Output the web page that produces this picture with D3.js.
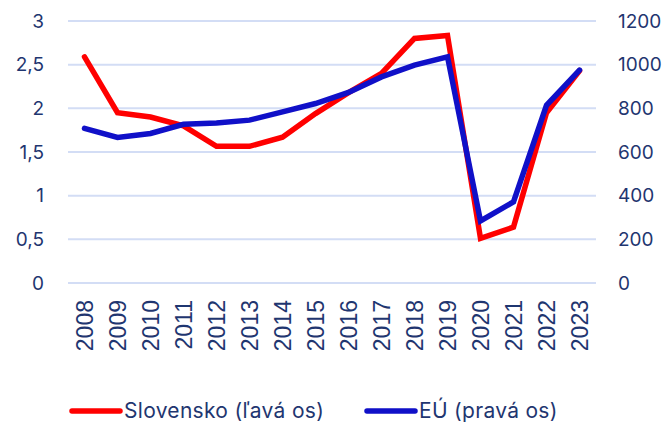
<!DOCTYPE html>
<html>
<head>
<meta charset="utf-8">
<script src="https://cdn.jsdelivr.net/npm/d3@7"></script>
<style>
  body { margin: 0; background: #fff; }
  svg text { fill: #1f3670; }
</style>
</head>
<body>
<div id="chart"></div>
<script>
var years = ["2008", "2009", "2010", "2011", "2012", "2013", "2014", "2015",
  "2016", "2017", "2018", "2019", "2020", "2021", "2022", "2023"];
// Slovensko, left axis
var slovensko = [2.59, 1.95, 1.90, 1.80, 1.565, 1.565, 1.67, 1.94,
  2.18, 2.40, 2.80, 2.835, 0.51, 0.64, 1.95, 2.43];
// EU, right axis
var eu = [708, 667, 685, 727, 733, 746, 784, 822,
  873, 944, 998, 1036, 284, 372, 814, 975];
var leftTicks = [0, 0.5, 1, 1.5, 2, 2.5, 3];
var rightTicks = [0, 200, 400, 600, 800, 1000, 1200];
var legendLabels = ["Slovensko (ľavá os)", "EÚ (pravá os)"];

var width = 671, height = 423;
var margin = { top: 21, right: 75, bottom: 140, left: 68 };
var w = width - margin.left - margin.right,
  h = height - margin.top - margin.bottom;

var x = d3.scaleBand().domain(years).range([0, w]);
var yL = d3.scaleLinear().domain([0, 3]).range([h, 0]);
var yR = d3.scaleLinear().domain([0, 1200]).range([h, 0]);

var svg = d3.select("#chart").append("svg")
  .attr("width", width)
  .attr("height", height);

var g = svg.append("g")
  .attr("transform", "translate(" + margin.left + "," + margin.top + ")");

// grid
g.append("g").selectAll("line")
  .data(leftTicks)
  .enter().append("line")
  .attr("x1", 0).attr("x2", w)
  .attr("y1", function (d) { return yL(d); })
  .attr("y2", function (d) { return yL(d); })
  .attr("stroke", "#d3ddf5")
  .attr("stroke-width", 2);

var fmt = function (d) { return String(d).replace(".", ","); };

var leftAxis = g.append("g")
  .call(d3.axisLeft(yL).tickValues(leftTicks).tickFormat(fmt).tickSize(0).tickPadding(24));
leftAxis.select(".domain").remove();
leftAxis.selectAll("text")
  .style("font-family", "Inter, sans-serif").style("font-size", "19px");

var rightAxis = g.append("g")
  .attr("transform", "translate(" + w + ",0)")
  .call(d3.axisRight(yR).tickValues(rightTicks).tickFormat(function (d) { return String(d); })
    .tickSize(0).tickPadding(22));
rightAxis.select(".domain").remove();
rightAxis.selectAll("text")
  .style("font-family", "Inter, sans-serif").style("font-size", "19px");

var xAxis = g.append("g")
  .attr("transform", "translate(0," + h + ")")
  .call(d3.axisBottom(x).tickSize(0));
xAxis.select(".domain").remove();
xAxis.selectAll("text")
  .style("font-family", "'Liberation Sans', Arial, sans-serif")
  .style("font-size", "23px")
  .attr("text-anchor", "end")
  .attr("dy", "0.35em")
  .attr("transform", "rotate(-90)")
  .attr("x", -17)
  .attr("y", 0);

var cx = function (d, i) { return x(years[i]) + x.bandwidth() / 2; };

g.append("path")
  .datum(slovensko)
  .attr("fill", "none")
  .attr("stroke", "#ff0000")
  .attr("stroke-width", 5.5)
  .attr("stroke-linecap", "round")
  .attr("d", d3.line().x(cx).y(function (d) { return yL(d); }));

g.append("path")
  .datum(eu)
  .attr("fill", "none")
  .attr("stroke", "#1010c8")
  .attr("stroke-width", 5.5)
  .attr("stroke-linecap", "round")
  .attr("d", d3.line().x(cx).y(function (d) { return yR(d); }));

// legend
var legend = svg.append("g").attr("transform", "translate(0,418)");
var legendX = [72, 367];
var legendColors = ["#ff0000", "#1010c8"];
legendLabels.forEach(function (lab, i) {
  legend.append("line")
    .attr("x1", legendX[i]).attr("x2", legendX[i] + 48)
    .attr("y1", -7).attr("y2", -7)
    .attr("stroke", legendColors[i])
    .attr("stroke-width", 5.5)
    .attr("stroke-linecap", "round");
  legend.append("text")
    .attr("x", legendX[i] + 52)
    .attr("y", 0)
    .style("font-family", "Inter, sans-serif")
    .style("font-size", "21px")
    .style("letter-spacing", "0.3px")
    .text(lab);
});
</script>
</body>
</html>
